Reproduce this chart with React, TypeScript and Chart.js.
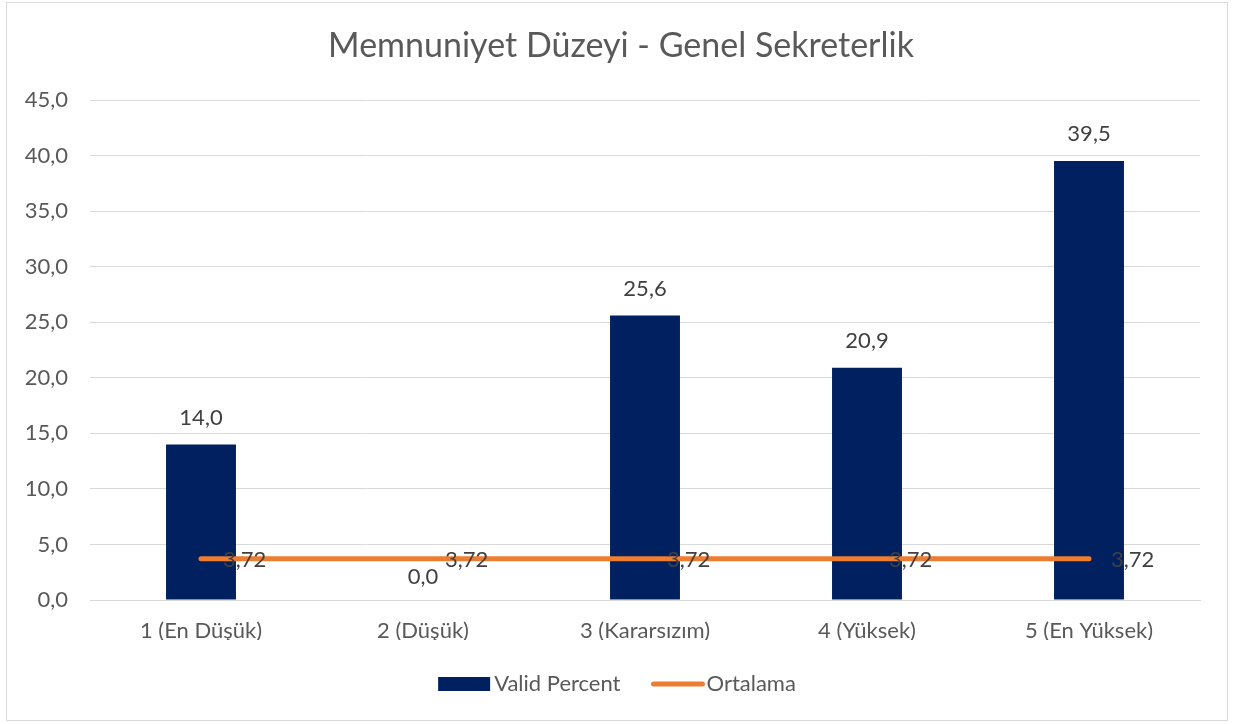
import React, { useEffect, useRef } from "react";
import { Chart, registerables } from "chart.js";

Chart.register(...registerables);

const categories = ["1 (En Düşük)", "2 (Düşük)", "3 (Kararsızım)", "4 (Yüksek)", "5 (En Yüksek)"];
const validPercent = [14.0, 0.0, 25.6, 20.9, 39.5];
const ortalama = [3.72, 3.72, 3.72, 3.72, 3.72];
const yTicks = [0, 5, 10, 15, 20, 25, 30, 35, 40, 45];
const titleText = "Memnuniyet Düzeyi - Genel Sekreterlik";

const FONT = "Lato, 'Open Sans', sans-serif";
const TEXT = "#595959";
const LABEL = "#404040";
const NAVY = "#002060";
const ORANGE = "#ED7D31";
const FS = 22;

const fmt1 = (v: number) => v.toFixed(1).replace(".", ",");
const fmt2 = (v: number) => v.toFixed(2).replace(".", ",");

const decorPlugin = {
  id: "decor",
  beforeDraw(chart: any) {
    const ctx = chart.ctx;
    ctx.save();
    ctx.fillStyle = "#ffffff";
    ctx.fillRect(0, 0, chart.width, chart.height);
    ctx.strokeStyle = "#d9d9d9";
    ctx.lineWidth = 1;
    ctx.strokeRect(6.5, 2.5, chart.width - 13, chart.height - 6);
    ctx.restore();
  },
  afterDatasetsDraw(chart: any) {
    const ctx = chart.ctx;
    ctx.save();
    // title
    ctx.font = `34px ${FONT}`;
    ctx.fillStyle = TEXT;
    ctx.textAlign = "center";
    ctx.textBaseline = "middle";
    ctx.fillText(titleText, chart.width / 2 + 4, 46);

    ctx.font = `${FS}px ${FONT}`;
    ctx.fillStyle = LABEL;
    // bar labels
    const barMeta = chart.getDatasetMeta(0);
    barMeta.data.forEach((el: any, i: number) => {
      const v = validPercent[i];
      ctx.textAlign = "center";
      ctx.textBaseline = "middle";
      ctx.fillText(fmt1(v), el.x, el.y - (v === 0 ? 23 : 27));
    });
    // line labels
    const lineMeta = chart.getDatasetMeta(1);
    lineMeta.data.forEach((el: any, i: number) => {
      ctx.textAlign = "left";
      ctx.textBaseline = "middle";
      ctx.fillText(fmt2(ortalama[i]), el.x + 22, el.y + 1);
    });

    // legend
    const items = chart.data.datasets.map((d: any) => ({
      text: d.label,
      color: d.type === "line" ? d.borderColor : d.backgroundColor,
      kind: d.type === "line" ? "line" : "bar",
    }));
    const box = 52;
    const gap = 4;
    const itemGap = 30;
    const widths = items.map((it: any) => box + gap + ctx.measureText(it.text).width);
    const total = widths.reduce((a: number, b: number) => a + b, 0) + itemGap * (items.length - 1);
    let lx = chart.width / 2 - total / 2;
    const ly = 684;
    items.forEach((it: any, i: number) => {
      if (it.kind === "bar") {
        ctx.fillStyle = it.color;
        ctx.fillRect(lx, ly - 7, box, 14);
      } else {
        ctx.strokeStyle = it.color;
        ctx.lineWidth = 5;
        ctx.lineCap = "round";
        ctx.beginPath();
        ctx.moveTo(lx + 3, ly);
        ctx.lineTo(lx + box, ly);
        ctx.stroke();
      }
      ctx.fillStyle = TEXT;
      ctx.textAlign = "left";
      ctx.textBaseline = "middle";
      ctx.fillText(it.text, lx + box + gap, ly);
      lx += widths[i] + itemGap;
    });
    ctx.restore();
  },
};

export default function App() {
  const ref = useRef<HTMLCanvasElement | null>(null);
  useEffect(() => {
    document.body.style.margin = "0";
    if (!ref.current) return;
    const chart = new Chart(ref.current, {
      data: {
        labels: categories,
        datasets: [
          {
            type: "bar",
            label: "Valid Percent",
            data: validPercent,
            backgroundColor: NAVY,
            categoryPercentage: 1,
            barPercentage: 0.315,
            order: 2,
          },
          {
            type: "line",
            label: "Ortalama",
            data: ortalama,
            borderColor: ORANGE,
            backgroundColor: ORANGE,
            borderWidth: 5,
            borderCapStyle: "round",
            pointRadius: 0,
            pointHoverRadius: 0,
            tension: 0,
            order: 1,
          },
        ],
      } as any,
      options: {
        animation: false,
        responsive: false,
        maintainAspectRatio: false,
        events: [],
        layout: { padding: { left: 0, right: 34, top: 100, bottom: 84 } },
        plugins: {
          legend: { display: false },
          title: { display: false },
          tooltip: { enabled: false },
        },
        scales: {
          x: {
            grid: { display: false, drawTicks: false },
            border: { display: true, color: "#d9d9d9" },
            ticks: { color: TEXT, font: { family: FONT, size: FS }, padding: 18, maxRotation: 0 },
            afterFit: (s: any) => { s.height = 40; },
          },
          y: {
            min: 0,
            max: 45,
            afterBuildTicks: (s: any) => { s.ticks = yTicks.map((v) => ({ value: v })); },
            grid: { color: "#d9d9d9", drawTicks: false },
            border: { display: false },
            ticks: {
              color: TEXT,
              font: { family: FONT, size: FS },
              padding: 22,
              callback: (v: any) => fmt1(Number(v)),
            },
            afterFit: (s: any) => { s.width = 90; },
          },
        },
      } as any,
      plugins: [decorPlugin],
    });
    return () => chart.destroy();
  }, []);
  return <canvas ref={ref} width={1234} height={724} style={{ display: "block" }} />;
}
